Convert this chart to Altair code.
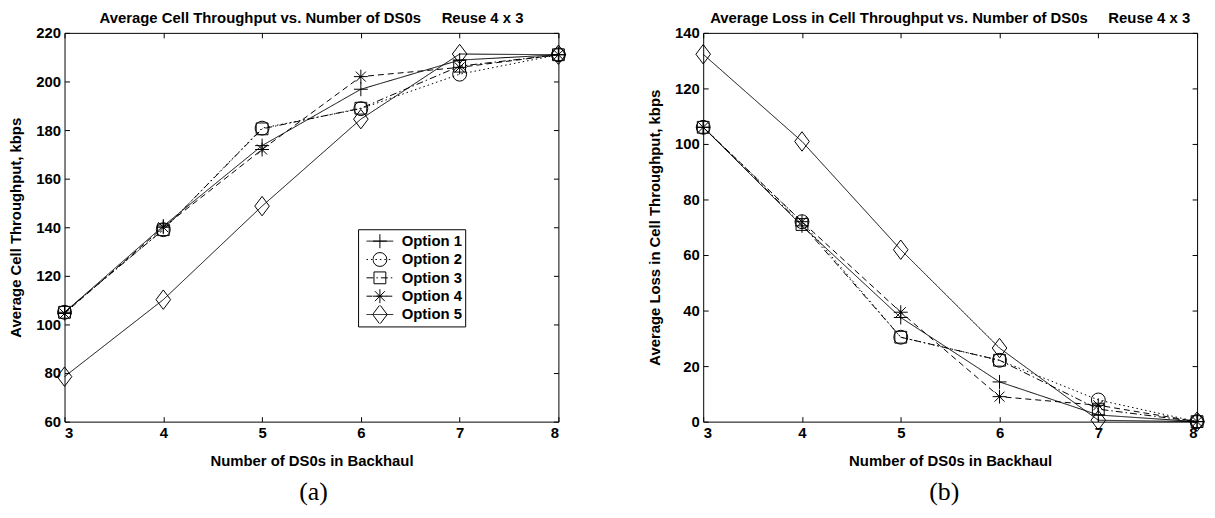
import altair as alt
import pandas as pd

# ---------------- data ----------------
ds0 = [3, 4, 5, 6, 7, 8]
options = ["Option 1", "Option 2", "Option 3", "Option 4", "Option 5"]
marker_keys = ["m1", "m2", "m3", "m4", "m5"]

# (a) Average cell throughput, kbps
thr_opt1 = [105.0, 140.5, 173.6, 196.8, 208.8, 211.0]
thr_opt2 = [105.0, 139.0, 180.8, 188.8, 203.0, 211.0]
thr_opt3 = [105.0, 139.0, 180.5, 189.0, 206.3, 211.0]
thr_opt4 = [104.5, 140.0, 172.0, 202.0, 205.8, 211.0]
thr_opt5 = [78.5, 110.2, 148.7, 184.5, 211.3, 211.0]

# (b) Average loss in cell throughput, kbps
loss_opt1 = [106.0, 70.5, 37.5, 14.3, 2.4, 0.0]
loss_opt2 = [106.0, 72.0, 30.4, 22.1, 7.8, 0.0]
loss_opt3 = [106.0, 71.0, 30.4, 22.1, 4.5, 0.0]
loss_opt4 = [106.0, 72.0, 39.4, 9.0, 5.9, 0.0]
loss_opt5 = [132.3, 100.9, 61.9, 26.5, 0.5, 0.0]

thr_ticks = [60, 80, 100, 120, 140, 160, 180, 200, 220]
loss_ticks = [0, 20, 40, 60, 80, 100, 120, 140]

# ---------------- styles ----------------
dash_range = [[1, 0], [1.5, 3], [7, 3, 1.5, 3], [6, 4], [1, 0]]
shape_range = [
    "M-1,0H1M0,-1V1",
    "circle",
    "M-0.85,-0.85H0.85V0.85H-0.85Z",
    "M-1,0H1M0,-1V1M-0.72,-0.72L0.72,0.72M-0.72,0.72L0.72,-0.72",
    "M0,-1.4L1.05,0L0,1.4L-1.05,0Z",
]

FONT = "Liberation Sans"
W, H = 498, 392


def long_df(series):
    rows = []
    for name, key, vals in zip(options, marker_keys, series):
        for x, v in zip(ds0, vals):
            rows.append({"ds0": x, "value": v, "option": name, "marker": key})
    return pd.DataFrame(rows)


df_a = long_df([thr_opt1, thr_opt2, thr_opt3, thr_opt4, thr_opt5])
df_b = long_df([loss_opt1, loss_opt2, loss_opt3, loss_opt4, loss_opt5])


def panel(df, ydom, yvals, ytitle, header, caption, cap_dx, legx, legy):
    xs = alt.Scale(domain=[3, 8], nice=False, zero=False)
    ys = alt.Scale(domain=ydom, nice=False, zero=False)

    x_lab = alt.Axis(orient="bottom", values=ds0, format="d", ticks=False, tickSize=0,
                     domain=False, grid=False, labelPadding=4, titlePadding=13,
                     title="Number of DS0s in Backhaul")
    y_lab = alt.Axis(orient="left", values=yvals, format="d", ticks=False, tickSize=0,
                     domain=False, grid=False, labelPadding=4, titlePadding=12,
                     title=ytitle)
    x_t1 = alt.Axis(orient="top", offset=-H, values=ds0, labels=False, domain=False,
                    ticks=True, tickSize=5, grid=False, title=None)
    y_t1 = alt.Axis(orient="right", offset=-W, values=yvals, labels=False, domain=False,
                    ticks=True, tickSize=5, grid=False, title=None)
    x_t2 = alt.Axis(orient="bottom", offset=-H, values=ds0, labels=False, domain=False,
                    ticks=True, tickSize=5, grid=False, title=None)
    y_t2 = alt.Axis(orient="left", offset=-W, values=yvals, labels=False, domain=False,
                    ticks=True, tickSize=5, grid=False, title=None)

    lines = alt.Chart(df).mark_line(color="black", strokeWidth=1).encode(
        x=alt.X("ds0:Q", scale=xs, axis=x_lab),
        y=alt.Y("value:Q", scale=ys, axis=y_lab),
        strokeDash=alt.StrokeDash(
            "option:N",
            scale=alt.Scale(domain=options, range=dash_range),
            legend=alt.Legend(
                title=None, orient="none", legendX=legx, legendY=legy,
                strokeColor="black", padding=3, symbolOffset=5,
                symbolSize=729, symbolStrokeWidth=1, symbolStrokeColor="black",
                symbolType="stroke",
                labelOffset=8, clipHeight=18, rowPadding=0.5,
                labelFont=FONT, labelFontSize=15, labelFontWeight="bold",
                labelColor="black",
            ),
        ),
    )

    points = alt.Chart(df).mark_point(filled=False, color="black", strokeWidth=1,
                                      size=196, opacity=1).encode(
        x=alt.X("ds0:Q", scale=xs, axis=x_t1),
        y=alt.Y("value:Q", scale=ys, axis=y_t1),
        shape=alt.Shape(
            "marker:N",
            scale=alt.Scale(domain=marker_keys, range=shape_range),
            legend=alt.Legend(
                title=None, orient="none", legendX=legx + 11.5, legendY=legy,
                padding=3, symbolSize=196, symbolStrokeWidth=1,
                symbolStrokeColor="black", symbolFillColor="transparent",
                labelOffset=8, clipHeight=18, rowPadding=0.5,
                labelFont=FONT, labelFontSize=15, labelFontWeight="bold",
                labelExpr="''",
            ),
        ),
    )

    ghost = alt.Chart(df).mark_point(opacity=0, size=1).encode(
        x=alt.X("ds0:Q", scale=xs, axis=x_t2),
        y=alt.Y("value:Q", scale=ys, axis=y_t2),
    )

    cap = alt.Chart(pd.DataFrame({"caption": [caption]})).mark_text(
        font="Liberation Serif", fontSize=26, align="center", baseline="middle",
        color="black",
    ).encode(x=alt.value(W / 2 + cap_dx), y=alt.value(H + 71), text="caption:N")

    return alt.layer(lines, points, ghost, cap).resolve_axis(
        x="independent", y="independent"
    ).properties(
        width=W, height=H,
        title=alt.TitleParams(header, anchor="middle", frame="group", offset=0,
                              font=FONT, fontSize=15, fontWeight="bold", color="black"),
    )


gap = "\u00a0" * 5
left = panel(df_a, [60, 220], thr_ticks, "Average Cell Throughput, kbps",
             "Average Cell Throughput vs. Number of DS0s" + gap + "Reuse 4 x 3",
             "(a)", 2, 296, 198)
right = panel(df_b, [0, 140], loss_ticks, "Average Loss in Cell Throughput, kbps",
              "Average Loss in Cell Throughput vs. Number of DS0s" + gap + "Reuse 4 x 3",
              "(b)", -6, 258, 83)

chart = alt.hconcat(left, right, spacing=146, bounds="flush").properties(
    autosize=alt.AutoSizeParams(type="pad"),
    padding={"left": 0, "top": 0, "right": 0, "bottom": 0},
).configure_view(
    stroke="black", strokeWidth=1
).configure_axis(
    labelFont=FONT, labelFontSize=15, labelFontWeight="bold", labelColor="black",
    titleFont=FONT, titleFontSize=15, titleFontWeight="bold", titleColor="black",
    tickColor="black", domainColor="black", grid=False,
)

chart.save("out.html", embed_options={"renderer": "svg", "actions": False})
